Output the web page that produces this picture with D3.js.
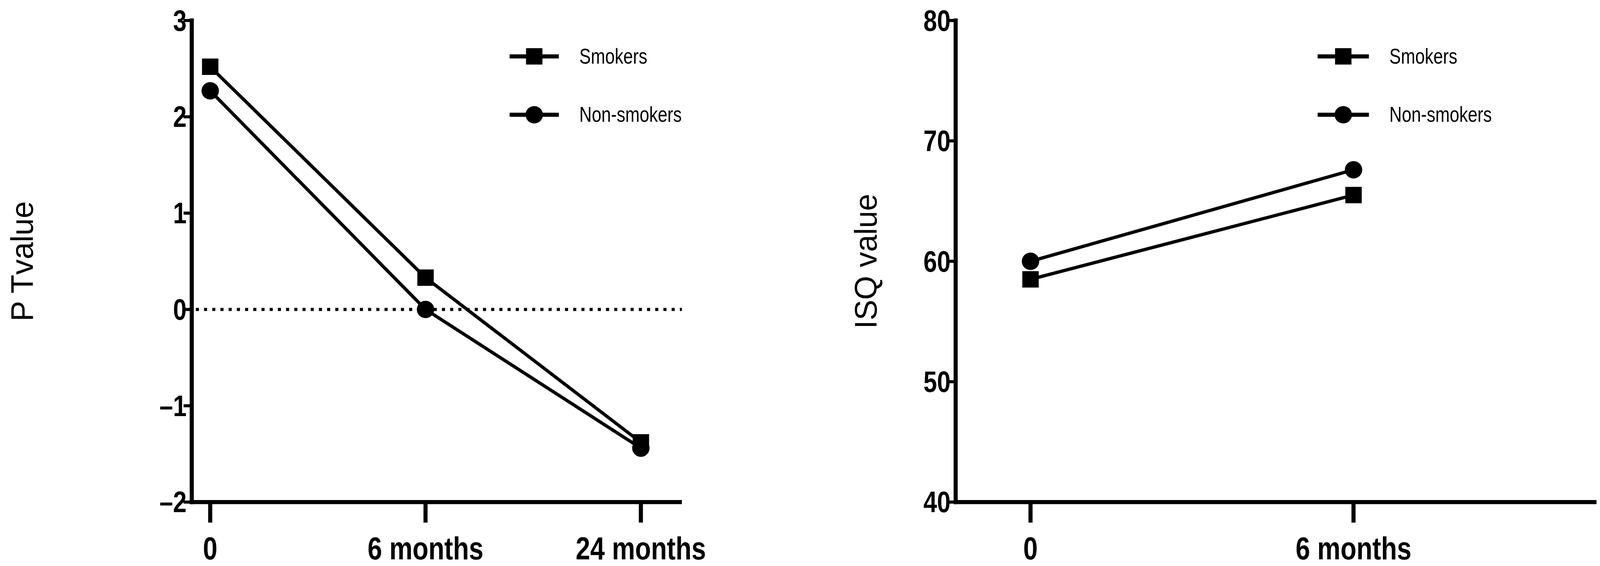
<!DOCTYPE html>
<html>
<head>
<meta charset="utf-8">
<script src="https://d3js.org/d3.v7.min.js"></script>
<style>
  body { margin: 0; background: #fff; }
  text { font-family: "Liberation Sans", Arial, sans-serif; }
</style>
</head>
<body>
<script>
// data
var leftCategories = ["0", "6 months", "24 months"];
var leftSmokers = [2.52, 0.33, -1.38];
var leftNonSmokers = [2.27, 0.0, -1.44];
var leftTicks = [-2, -1, 0, 1, 2, 3];

var rightCategories = ["0", "6 months"];
var rightSmokers = [58.5, 65.5];
var rightNonSmokers = [60.0, 67.6];
var rightTicks = [40, 50, 60, 70, 80];

var seriesNames = ["Smokers", "Non-smokers"];

var k = 2.625; // layout drawn in reference units, scaled up
var svg = d3.select("body").append("svg")
  .attr("width", 4115).attr("height", 1450)
  .append("g").attr("transform", "scale(" + k + ")");

function squeeze(sel, x, f) {
  sel.attr("transform", "translate(" + x + ",0) scale(" + f + ",1) translate(" + (-x) + ",0)");
}

function panel(opt) {
  var g = svg.append("g");
  var y = d3.scaleLinear().domain(opt.domain).range([490, 20]);
  var x = d3.scalePoint().domain(opt.cats).range(opt.xr);

  // axes
  g.append("line").attr("x1", opt.ax).attr("x2", opt.ax).attr("y1", 18).attr("y2", 492)
    .attr("stroke", "#000").attr("stroke-width", 4);
  g.append("line").attr("x1", opt.ax - 2).attr("x2", opt.xend).attr("y1", 490).attr("y2", 490)
    .attr("stroke", "#000").attr("stroke-width", 4);

  opt.ticks.forEach(function (t) {
    g.append("line").attr("x1", opt.ax - 8).attr("x2", opt.ax).attr("y1", y(t)).attr("y2", y(t))
      .attr("stroke", "#000").attr("stroke-width", 3);
    var tx = g.append("text").attr("x", opt.ax - 5).attr("y", y(t) + 10)
      .attr("text-anchor", "end").attr("font-size", 29).attr("font-weight", "bold")
      .text(String(t).replace("-", "\u2013"));
    squeeze(tx, opt.ax - 5, 0.82);
  });
  opt.cats.forEach(function (c) {
    g.append("line").attr("x1", x(c)).attr("x2", x(c)).attr("y1", 490).attr("y2", 510)
      .attr("stroke", "#000").attr("stroke-width", 4);
    var tx = g.append("text").attr("x", x(c)).attr("y", 546).attr("text-anchor", "middle")
      .attr("font-size", 31).attr("font-weight", "bold").text(c);
    squeeze(tx, x(c), 0.82);
  });

  g.append("text").attr("transform", "translate(" + opt.titleX + ",255) rotate(-90)")
    .attr("text-anchor", "middle").attr("font-size", 30).text(opt.title);

  if (opt.zeroLine) {
    g.append("line").attr("x1", opt.ax + 4).attr("x2", opt.xend).attr("y1", y(0)).attr("y2", y(0))
      .attr("stroke", "#000").attr("stroke-width", 3).attr("stroke-dasharray", "3,5");
  }

  var line = d3.line().x(function (d, i) { return x(opt.cats[i]); }).y(function (d) { return y(d); });
  [opt.s, opt.n].forEach(function (vals) {
    g.append("path").datum(vals).attr("d", line).attr("fill", "none")
      .attr("stroke", "#000").attr("stroke-width", 3.2);
  });
  g.selectAll(".sq").data(opt.s).enter().append("rect")
    .attr("x", function (d, i) { return x(opt.cats[i]) - 8; })
    .attr("y", function (d) { return y(d) - 8; })
    .attr("width", 16).attr("height", 16).attr("fill", "#000");
  g.selectAll(".ci").data(opt.n).enter().append("circle")
    .attr("cx", function (d, i) { return x(opt.cats[i]); })
    .attr("cy", function (d) { return y(d); })
    .attr("r", 8.5).attr("fill", "#000");

  // legend
  seriesNames.forEach(function (name, i) {
    var ly = 55 + i * 57;
    var cx = (opt.lx[0] + opt.lx[1]) / 2;
    g.append("line").attr("x1", opt.lx[0]).attr("x2", opt.lx[1]).attr("y1", ly).attr("y2", ly)
      .attr("stroke", "#000").attr("stroke-width", 4);
    if (i === 0) g.append("rect").attr("x", cx - 8).attr("y", ly - 8).attr("width", 16).attr("height", 16);
    else g.append("circle").attr("cx", cx).attr("cy", ly).attr("r", 8.5);
    var tx = g.append("text").attr("x", opt.lx[1] + 20).attr("y", ly + 7).attr("font-size", 21)
      .text(name);
    squeeze(tx, opt.lx[1] + 20, 0.8);
  });
}

panel({ cats: leftCategories, s: leftSmokers, n: leftNonSmokers, ticks: leftTicks,
  domain: [-2, 3], ax: 187, xr: [205, 625], xend: 665, title: "P Tvalue", titleX: 32,
  zeroLine: true, lx: [497, 545] });
panel({ cats: rightCategories, s: rightSmokers, n: rightNonSmokers, ticks: rightTicks,
  domain: [40, 80], ax: 932, xr: [1005, 1320], xend: 1557, title: "ISQ value", titleX: 855,
  zeroLine: false, lx: [1285, 1335] });
</script>
</body>
</html>
